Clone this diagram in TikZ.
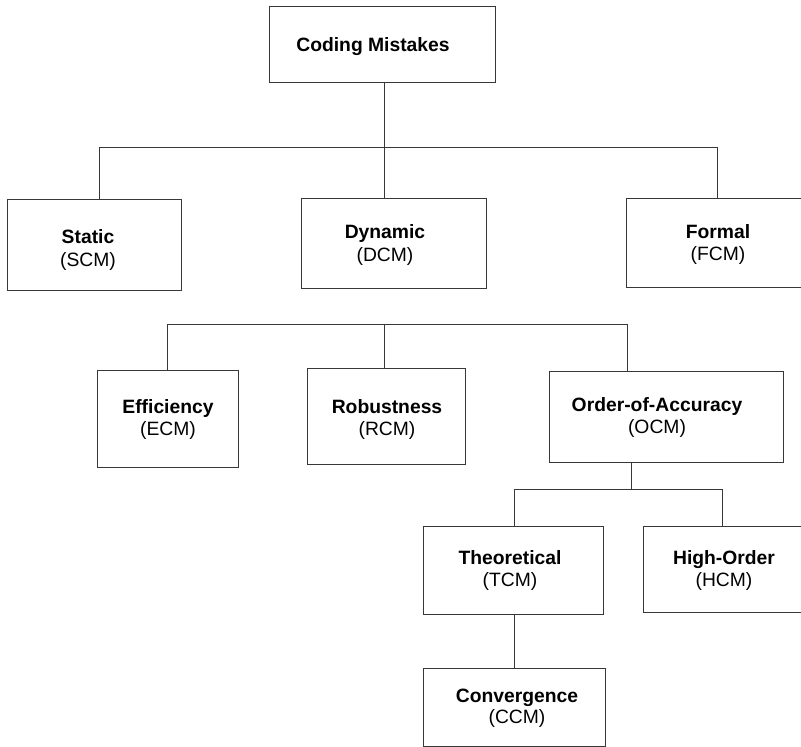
\documentclass[tikz,border=0pt]{standalone}
\usepackage{fontspec}
\setmainfont{Liberation Sans}
\begin{document}
\begin{tikzpicture}[x=1pt,y=-1pt,
  box/.style={draw=black!78, line width=1.2pt, rectangle, inner sep=0pt, anchor=north west},
  conn/.style={draw=black!78, line width=1pt},
  lbl/.style={anchor=base, inner sep=0pt, text=black, font=\fontsize{19.3}{22}\selectfont},
  lblb/.style={lbl, font=\fontsize{19.3}{22}\selectfont\bfseries}]
\useasboundingbox (0,0) rectangle (801,747);
\clip (0,0) rectangle (801,747);
% boxes
\node[box, minimum width=226pt, minimum height=76pt] (cm) at (269,6) {};
\node[box, minimum width=174pt, minimum height=91pt] (scm) at (7,199) {};
\node[box, minimum width=185pt, minimum height=90pt] (dcm) at (301,198) {};
\node[box, minimum width=200pt, minimum height=89pt] (fcm) at (626,198) {};
\node[box, minimum width=141pt, minimum height=97pt] (ecm) at (97,370) {};
\node[box, minimum width=158pt, minimum height=96pt] (rcm) at (307,368) {};
\node[box, minimum width=234pt, minimum height=91pt] (ocm) at (549,371) {};
\node[box, minimum width=180pt, minimum height=88pt] (tcm) at (423,526) {};
\node[box, minimum width=200pt, minimum height=86pt] (hcm) at (643,526) {};
\node[box, minimum width=182pt, minimum height=78pt] (ccm) at (423,668) {};
% labels
\node[lblb] (cmA) at (373,51) {Coding Mistakes};
\node[lblb] (scmA) at (88,243) {Static};
\node[lbl] (scmB) at (88,266) {(SCM)};
\node[lblb] (dcmA) at (385,238) {Dynamic};
\node[lbl] (dcmB) at (385,261) {(DCM)};
\node[lblb] (fcmA) at (718,238) {Formal};
\node[lbl] (fcmB) at (718,260) {(FCM)};
\node[lblb] (ecmA) at (168,413) {Efficiency};
\node[lbl] (ecmB) at (168,435) {(ECM)};
\node[lblb] (rcmA) at (387,413) {Robustness};
\node[lbl] (rcmB) at (387,435) {(RCM)};
\node[lblb] (ocmA) at (657,411) {Order-of-Accuracy};
\node[lbl] (ocmB) at (657,433) {(OCM)};
\node[lblb] (tcmA) at (510,564) {Theoretical};
\node[lbl] (tcmB) at (510,586) {(TCM)};
\node[lblb] (hcmA) at (724,564) {High-Order};
\node[lbl] (hcmB) at (724,586) {(HCM)};
\node[lblb] (ccmA) at (517,702) {Convergence};
\node[lbl] (ccmB) at (517,723) {(CCM)};
% level 1 bus
\coordinate (b1) at (384,147);
\coordinate (b1l) at (99,147);
\coordinate (b1r) at (717,147);
\draw[conn] (b1 |- cm.south) -- (b1 |- dcm.north);
\draw[conn] (b1l) -- (b1r);
\draw[conn] (b1l) -- (b1l |- scm.north);
\draw[conn] (b1r) -- (b1r |- fcm.north);
% level 2 bus
\coordinate (b2l) at (167,324);
\coordinate (b2m) at (384,324);
\coordinate (b2r) at (627,324);
\draw[conn] (b2l) -- (b2r);
\draw[conn] (b2l) -- (b2l |- ecm.north);
\draw[conn] (b2m) -- (b2m |- rcm.north);
\draw[conn] (b2r) -- (b2r |- ocm.north);
% level 3 bus
\coordinate (b3) at (631,489);
\coordinate (b3l) at (514,489);
\coordinate (b3r) at (722,489);
\draw[conn] (b3 |- ocm.south) -- (b3);
\draw[conn] (b3l) -- (b3r);
\draw[conn] (b3l) -- (b3l |- tcm.north);
\draw[conn] (b3r) -- (b3r |- hcm.north);
\draw[conn] (b3l |- tcm.south) -- (b3l |- ccm.north);
\end{tikzpicture}
\end{document}
